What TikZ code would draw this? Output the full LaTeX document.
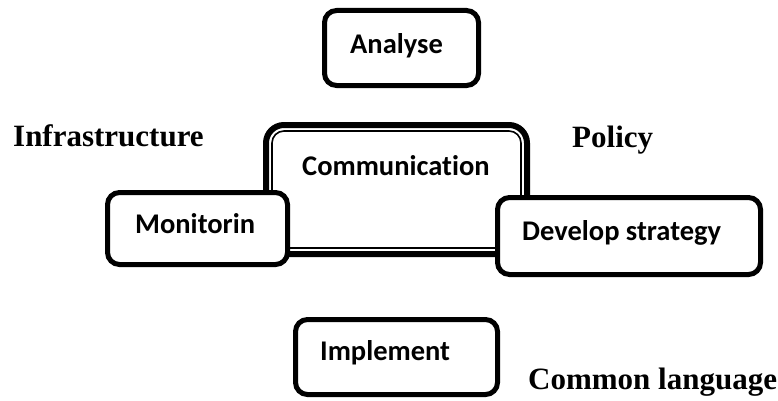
\documentclass[tikz,border=0pt]{standalone}
\usepackage{fontspec}
\setmainfont{Liberation Serif}
\newfontfamily\boxfont[RawFeature=-liga]{Carlito}

\tikzset{
  stage/.style={draw, line width=5pt, rounded corners=12pt, fill=white, inner sep=0pt},
  stagetext/.style={font=\boxfont\bfseries\fontsize{28.5}{32}\selectfont, anchor=base west, inner sep=0pt},
  aspect/.style={font=\bfseries\fontsize{31}{35}\selectfont, anchor=base west, inner sep=0pt}
}

\begin{document}
\begin{tikzpicture}[x=1pt,y=1pt]
\useasboundingbox (0,0) rectangle (778,400);
% centre box, double border
\draw [line width=6pt, rounded corners=18pt] (266,146) rectangle (527,275);
\draw [line width=1.6pt, rounded corners=12pt] (272,152) rectangle (521,269);
\node[stagetext] (comm) at (302,225) {Communication};
% the four stages
\node[stage, minimum width=154pt, minimum height=75pt] (analyse) at (401.5,352) {};
\node[stagetext] (analysetxt) at (350,347) {Analyse};
\node[stage, minimum width=180pt, minimum height=72pt] (monitor) at (197.5,171.5) {};
\node[stagetext] (monitortxt) at (135,167) {Monitorin};
\node[stage, minimum width=263pt, minimum height=77pt] (develop) at (629,164) {};
\node[stagetext] (developtxt) at (522,160) {Develop strategy};
\node[stage, minimum width=202pt, minimum height=75pt] (implement) at (396.5,43) {};
\node[stagetext] (implementtxt) at (320,40) {Implement};
% side labels
\node[aspect] (infra) at (13,254) {Infrastructure};
\node[aspect] (policy) at (572,253) {Policy};
\node[aspect] (common) at (528,11) {Common language};
\end{tikzpicture}
\end{document}
